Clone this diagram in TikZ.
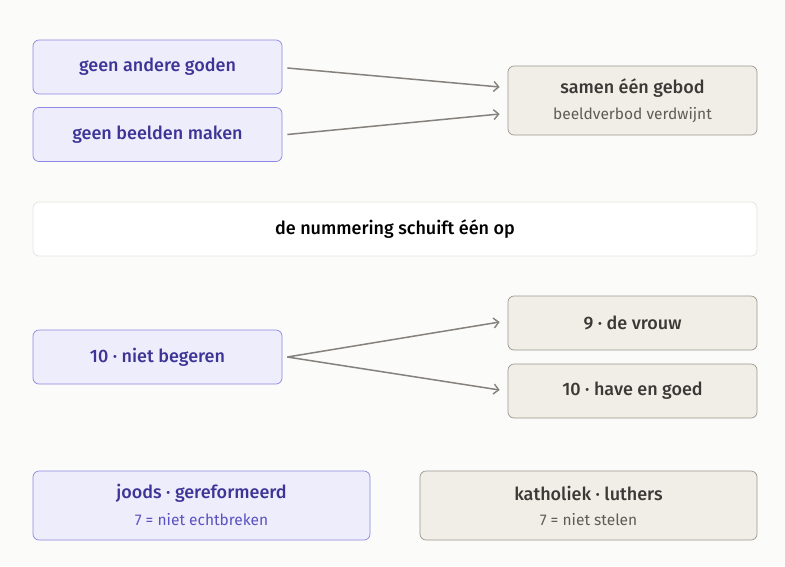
\documentclass[tikz,border=0pt]{standalone}
\usepackage{fontspec}
\setmainfont{Fira Sans}
\newfontfamily\medfont{Fira Sans Medium}
\usetikzlibrary{arrows.meta}
\definecolor{bg}{HTML}{FBFBF9}
\definecolor{pfill}{HTML}{EEEDFC}
\definecolor{pdraw}{HTML}{8D87E2}
\definecolor{ptext}{HTML}{3D3596}
\definecolor{psub}{HTML}{5A52C0}
\definecolor{bfill}{HTML}{F1EEE8}
\definecolor{bdraw}{HTML}{9C978F}
\definecolor{btext}{HTML}{3B3935}
\definecolor{bsub}{HTML}{5F5B55}
\definecolor{wdraw}{HTML}{E4E3DF}
\definecolor{arr}{HTML}{85827D}
\tikzset{
  box/.style={rounded corners=6pt, line width=0.7pt, minimum height=54pt, inner sep=0pt, align=center},
  pbox/.style={box, fill=pfill, draw=pdraw, text=ptext},
  bbox/.style={box, fill=bfill, draw=bdraw, text=btext},
  wbox/.style={box, fill=white, draw=wdraw, text=black},
  conn/.style={draw=arr, line width=1.5pt, -{Straight Barb[length=5pt,width=10pt,line width=1.4pt]}},
  ttl/.style={font=\medfont\fontsize{18}{21}\selectfont},
  sub/.style={font=\fontsize{15.5}{18}\selectfont},
}
\begin{document}
\begin{tikzpicture}[x=1pt,y=-1pt]
\fill[bg] (0,0) rectangle (785,566);
\useasboundingbox (0,0) rectangle (785,566);
\node[pbox, minimum width=249pt, ttl] (A) at (157.5,67) {geen andere goden};
\node[pbox, minimum width=249pt, ttl] (B) at (157.5,134.5) {geen beelden maken};
\node[bbox, minimum width=249pt, minimum height=69pt] (C) at (632.5,100.5) {};
\node[ttl, text=btext] (Ct) at (632.5,88) {samen één gebod};
\node[sub, text=bsub] (Cs) at (632.5,115) {beeldverbod verdwijnt};
\node[wbox, minimum width=724pt, ttl] (D) at (395,229) {de nummering schuift één op};
\node[pbox, minimum width=249pt, ttl] (E) at (157.5,357) {10 · niet begeren};
\node[bbox, minimum width=249pt, ttl] (F) at (632.5,323) {9 · de vrouw};
\node[bbox, minimum width=249pt, ttl] (G) at (632.5,391) {10 · have en goed};
\node[pbox, minimum width=337pt, minimum height=69pt] (H) at (201.5,505.5) {};
\node[ttl, text=ptext] (Ht) at (201.5,493) {joods · gereformeerd};
\node[sub, text=psub] (Hs) at (201.5,520) {7 = niet echtbreken};
\node[bbox, minimum width=337pt, minimum height=69pt] (I) at (588.5,505.5) {};
\node[ttl, text=btext] (It) at (588.5,493) {katholiek · luthers};
\node[sub, text=bsub] (Is) at (588.5,520) {7 = niet stelen};
\draw[conn] ([xshift=5pt,yshift=-1pt]A.east) -- ([xshift=-8pt,yshift=13.5pt]C.west);
\draw[conn] ([xshift=5pt]B.east) -- ([xshift=-8pt,yshift=-13.5pt]C.west);
\draw[conn] ([xshift=5pt]E.east) -- ([xshift=-8pt,yshift=1pt]F.west);
\draw[conn] ([xshift=5pt]E.east) -- ([xshift=-8pt,yshift=1pt]G.west);
\end{tikzpicture}
\end{document}
